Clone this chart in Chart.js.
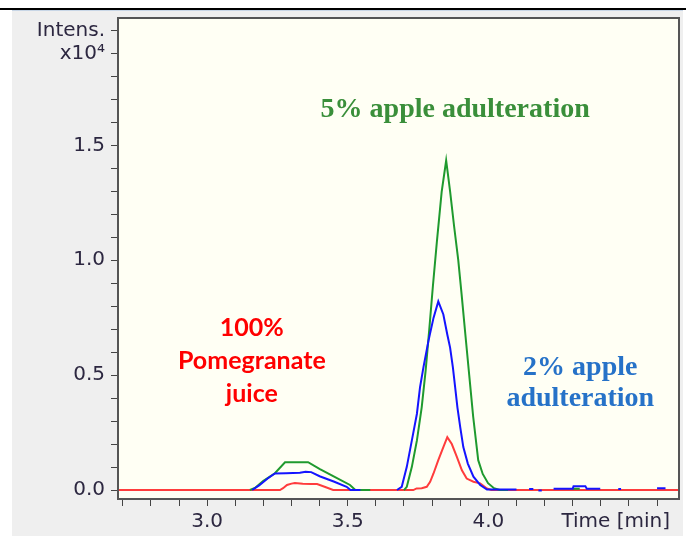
<!DOCTYPE html>
<html>
<head>
<meta charset="utf-8">
<script src="https://cdn.jsdelivr.net/npm/chart.js@4.4.1/dist/chart.umd.min.js"></script>
<style>
  html, body { margin: 0; padding: 0; background: #ffffff; }
  canvas { display: block; }
</style>
</head>
<body>
<canvas id="chrom" width="686" height="536"></canvas>
<script>
// Axis ranges: retention time (min) and intensity (x10^4 counts)
const timeRange = [2.683, 4.678];
const intensityRange = [-0.039, 2.054];
const timeTickLabels = [3.0, 3.5, 4.0];
const intensityTickLabels = [0.0, 0.5, 1.0, 1.5];
const intensityUnitTicks = [2.0, 1.9];
const intensityUnitLabels = ['Intens.', 'x10\u2074'];
const timeAxisLabel = 'Time [min]';

// 2% apple adulteration (blue trace); null marks a break in the trace
const blueTimes = [3.160, 3.185, 3.215, 3.241, 3.280, 3.330, 3.350, 3.370, 3.400, 3.450, 3.496, 3.510, 3.545, 3.560,
  3.675, 3.692, 3.710, 3.728, 3.746, 3.757, 3.769, 3.787, 3.805, 3.822, 3.840, 3.854, 3.864, 3.874, 3.882, 3.890,
  3.900, 3.911, 3.927, 3.947, 3.971, 3.995, 4.100, 4.120,
  4.145, 4.160, 4.170, 4.178, 4.190, 4.200,
  4.232, 4.300, 4.303, 4.345, 4.350, 4.398, 4.410,
  4.462, 4.472, 4.480,
  4.600, 4.630, 4.640];
const blueValues = [0, 0.020, 0.050, 0.072, 0.073, 0.075, 0.080, 0.078, 0.060, 0.037, 0.014, 0, 0, null,
  0, 0.014, 0.101, 0.216, 0.332, 0.447, 0.533, 0.649, 0.749, 0.821, 0.764, 0.677, 0.620, 0.533, 0.447, 0.360,
  0.274, 0.187, 0.115, 0.058, 0.022, 0.002, 0.002, null,
  0.005, 0.005, null, -0.002, -0.002, null,
  0.006, 0.006, 0.017, 0.017, 0.006, 0.006, null,
  0.005, 0.005, null,
  0.008, 0.008, null];

// 5% apple adulteration (green trace)
const greenTimes = [3.152, 3.170, 3.199, 3.241, 3.277, 3.359, 3.401, 3.455, 3.508, 3.527, 3.580, 3.590,
  3.700, 3.710, 3.728, 3.746, 3.763, 3.777, 3.790, 3.803, 3.817, 3.834, 3.850, 3.864, 3.878, 3.893, 3.905,
  3.918, 3.932, 3.946, 3.964, 3.980, 3.999, 4.020, 4.040, 4.070, 4.080,
  4.300, 4.325, 4.330];
const greenValues = [0, 0.009, 0.039, 0.073, 0.121, 0.121, 0.091, 0.056, 0.022, 0, 0, null,
  0, 0.014, 0.101, 0.216, 0.360, 0.520, 0.700, 0.890, 1.081, 1.297, 1.434, 1.300, 1.150, 1.000, 0.850,
  0.680, 0.500, 0.320, 0.130, 0.070, 0.030, 0.008, 0, 0, null,
  0.006, 0.006, null];

// 100% pomegranate juice (red trace)
const redTimes = [2.683, 3.259, 3.270, 3.284, 3.300, 3.312, 3.340, 3.370, 3.391, 3.420, 3.448,
  3.733, 3.745, 3.763, 3.781, 3.793, 3.805, 3.822, 3.840, 3.854, 3.870, 3.888, 3.906, 3.923, 3.947,
  3.971, 3.995, 4.010, 4.678];
const redValues = [0, 0, 0.008, 0.022, 0.028, 0.031, 0.027, 0.026, 0.026, 0.013, 0,
  0, 0.007, 0.008, 0.014, 0.036, 0.072, 0.130, 0.187, 0.230, 0.200, 0.144, 0.086, 0.050, 0.036,
  0.029, 0.007, 0, 0];

// Text labels for the three traces
const greenLabel = ['5% apple adulteration'];
const blueLabel = ['2% apple', 'adulteration'];
const redLabel = ['100%', 'Pomegranate', 'juice'];

const toPoints = (xs, ys) => xs.map((x, i) => ({ x: x, y: ys[i] }));

const tickFont = { family: '"DejaVu Sans", Verdana, sans-serif', size: 20 };
const tickColor = '#2c2740';

function near(list, v) {
  return list.findIndex(t => Math.abs(t - v) < 1e-6);
}

const decor = {
  id: 'decor',
  beforeDraw(chart) {
    const { ctx, chartArea: a, width, height } = chart;
    ctx.save();
    ctx.fillStyle = '#ffffff';
    ctx.fillRect(0, 0, width, height);
    ctx.fillStyle = '#efefef';
    ctx.fillRect(12, 10, 671, height - 10);
    ctx.fillStyle = '#c8d6e6';
    ctx.fillRect(12, 10, 671, 1);
    ctx.fillStyle = '#000000';
    ctx.fillRect(0, 8, 686, 2);
    ctx.fillStyle = '#fffff4';
    ctx.fillRect(a.left, a.top, a.right - a.left, a.bottom - a.top);
    ctx.restore();
  },
  afterDatasetsDraw(chart) {
    const { ctx, chartArea: a, scales } = chart;
    const xs = scales.x, ys = scales.y;
    ctx.save();
    // plot frame
    ctx.strokeStyle = '#555555';
    ctx.lineWidth = 2;
    ctx.strokeRect(a.left, a.top, a.right - a.left, a.bottom - a.top);

    ctx.textAlign = 'center';
    ctx.textBaseline = 'middle';

    ctx.fillStyle = '#3a8f3a';
    ctx.font = 'bold 28px "Liberation Serif", "Times New Roman", serif';
    ctx.fillText(greenLabel[0], xs.getPixelForValue(3.882), ys.getPixelForValue(1.656));

    ctx.fillStyle = '#2672c8';
    const blueY = [0.532, 0.398];
    blueLabel.forEach((t, i) => ctx.fillText(t, xs.getPixelForValue(4.327), ys.getPixelForValue(blueY[i])));

    ctx.fillStyle = '#ff0000';
    ctx.font = 'bold 25px Lato, "Liberation Sans", sans-serif';
    const redY = [0.705, 0.562, 0.419];
    redLabel.forEach((t, i) => ctx.fillText(t, xs.getPixelForValue(3.159), ys.getPixelForValue(redY[i])));

    // time axis caption
    ctx.fillStyle = tickColor;
    ctx.font = '20px "DejaVu Sans", Verdana, sans-serif';
    ctx.textAlign = 'right';
    ctx.fillText(timeAxisLabel, a.right - 9, 522);
    ctx.restore();
  }
};

new Chart(document.getElementById('chrom'), {
  type: 'line',
  data: {
    datasets: [
      { label: '2% apple adulteration', data: toPoints(blueTimes, blueValues), borderColor: '#1414ff', borderWidth: 2, pointRadius: 0, spanGaps: false, tension: 0 },
      { label: '5% apple adulteration', data: toPoints(greenTimes, greenValues), borderColor: '#1f9a2e', borderWidth: 2, pointRadius: 0, spanGaps: false, tension: 0 },
      { label: '100% Pomegranate juice', data: toPoints(redTimes, redValues), borderColor: '#ff3c3c', borderWidth: 2, pointRadius: 0, spanGaps: false, tension: 0 }
    ]
  },
  options: {
    responsive: false,
    animation: false,
    devicePixelRatio: 1,
    layout: { padding: { left: 0, right: 7, top: 15, bottom: 0 } },
    plugins: { legend: { display: false }, tooltip: { enabled: false } },
    scales: {
      x: {
        type: 'linear',
        min: timeRange[0],
        max: timeRange[1],
        afterFit(s) { s.height = 37; },
        border: { display: false },
        grid: { drawOnChartArea: false, drawTicks: true, tickLength: 7, color: '#444444', lineWidth: 1 },
        ticks: {
          stepSize: 0.1, autoSkip: false, maxRotation: 0, minRotation: 0, includeBounds: false,
          padding: 4, color: tickColor, font: tickFont,
          callback(v) {
            const i = near(timeTickLabels, v);
            return i < 0 ? '' : timeTickLabels[i].toFixed(1);
          }
        }
      },
      y: {
        type: 'linear',
        min: intensityRange[0],
        max: intensityRange[1],
        afterFit(s) { s.width = 118; },
        border: { display: false },
        grid: { drawOnChartArea: false, drawTicks: true, tickLength: 7, color: '#444444', lineWidth: 1 },
        ticks: {
          stepSize: 0.1, autoSkip: false, includeBounds: false,
          padding: 6, color: tickColor, font: tickFont,
          callback(v) {
            const u = near(intensityUnitTicks, v);
            if (u >= 0) return intensityUnitLabels[u];
            const i = near(intensityTickLabels, v);
            return i < 0 ? '' : intensityTickLabels[i].toFixed(1);
          }
        }
      }
    }
  },
  plugins: [decor]
});
</script>
</body>
</html>
